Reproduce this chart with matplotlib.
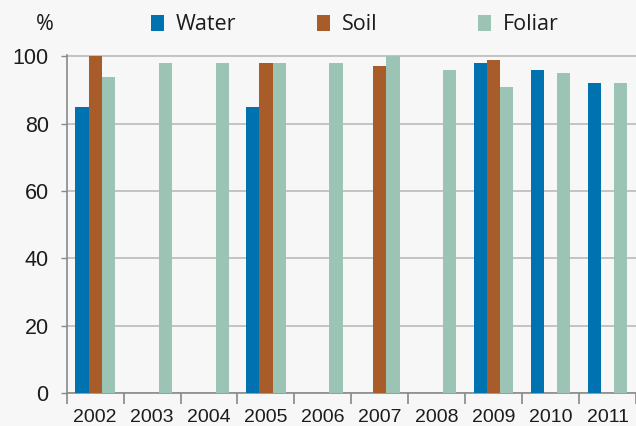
import numpy as np
import matplotlib
matplotlib.use("Agg")
import matplotlib.pyplot as plt
from matplotlib.patches import Patch
from matplotlib import font_manager

years = ["2002", "2003", "2004", "2005", "2006", "2007", "2008", "2009", "2010", "2011"]
water = [85, None, None, 85, None, None, None, 98, 96, 92]
soil = [100, None, None, 98, None, 97, None, 99, None, None]
foliar = [94, 98, 98, 98, 98, 100, 96, 91, 95, 92]
series_names = ["Water", "Soil", "Foliar"]
colors = ["#0072b0", "#a85c2a", "#9cc4b4"]
yticks = [0, 20, 40, 60, 80, 100]

def arr(v):
    return np.array([np.nan if x is None else x for x in v], dtype=float)

installed = {f.name for f in font_manager.fontManager.ttflist}
narrow = "Liberation Sans Narrow" if "Liberation Sans Narrow" in installed else "Liberation Sans"
xfs = 16 if narrow == "Liberation Sans Narrow" else 14

W, H = 636, 426
fig = plt.figure(figsize=(W / 100, H / 100), dpi=100)
bg = "#f7f7f7"
fig.patch.set_facecolor(bg)

ax_left = 66.7 / W
ax_bottom = (H - 393) / H
ax_top = (H - 55) / H
ax = fig.add_axes([ax_left, ax_bottom, 1 - ax_left, ax_top - ax_bottom])
ax.set_facecolor(bg)

x = np.arange(len(years))
w = 0.231
data = [arr(water), arr(soil), arr(foliar)]
for i, (vals, c, name) in enumerate(zip(data, colors, series_names)):
    ax.bar(x + (i - 1) * w, vals, width=w, color=c, label=name, zorder=3)

cat_w = 57.95
ax.set_xlim(-0.5, -0.5 + (W - 66.7) / cat_w)
ax.set_ylim(0, 100.4)

txt = "#1c1c1c"
ax.set_yticks(yticks)
ax.set_yticklabels([str(t) for t in yticks], fontsize=15.5, family="Liberation Sans", color=txt)
ax.tick_params(axis="y", length=4, width=1, color="#888888", pad=9, direction="out")

ax.set_xticks(np.arange(-0.5, len(years), 1.0))
ax.set_xticklabels([])
ax.set_xticks(x, minor=True)
ax.set_xticklabels(years, minor=True, fontsize=xfs, family=narrow, color=txt)
ax.tick_params(axis="x", which="major", length=8, width=1.2, color="#888888")
ax.tick_params(axis="x", which="minor", length=0, pad=11.5)

ax.yaxis.grid(True, color="#b5b5b5", linewidth=1.1, zorder=0)
ax.set_axisbelow(True)
for s in ["top", "right"]:
    ax.spines[s].set_visible(False)
for s in ["left", "bottom"]:
    ax.spines[s].set_color("#8a8a8a")
    ax.spines[s].set_linewidth(1.2)

fig.text(45 / W, 1 - 25 / H, "%", ha="center", va="center", fontsize=15.5, family="Open Sans", color=txt)

leg_x = [151, 317, 478]
fs = 15.5
for hx, name, c in zip(leg_x, series_names, colors):
    leg = fig.legend(handles=[Patch(facecolor=c, label=name)], loc="center left",
                     bbox_to_anchor=(hx / W, 1 - 25 / H), frameon=False,
                     prop={"family": "Open Sans", "size": fs},
                     handlelength=0.62, handleheight=0.8, handletextpad=0.55,
                     borderpad=0, borderaxespad=0)
    for t in leg.get_texts():
        t.set_color(txt)

fig.savefig("out.png", dpi=100, facecolor=bg)
